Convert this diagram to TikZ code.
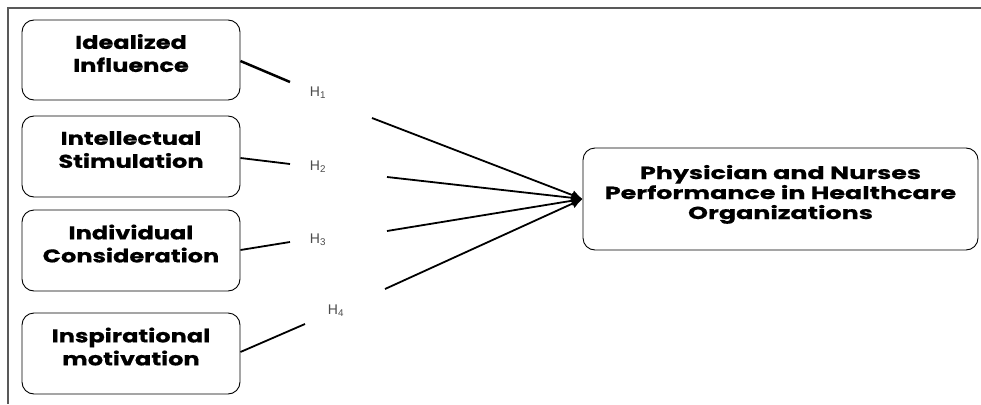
\documentclass[tikz,border=0pt]{standalone}
\usepackage{fontspec}
\setmainfont{Liberation Sans}
\newfontfamily\boxfont{Poppins}[BoldFeatures={FakeStretch=1.3,FakeBold=0.6}]
\newfontfamily\widefont{Poppins}[BoldFeatures={FakeStretch=1.45,FakeBold=0.6}]
\usetikzlibrary{arrows.meta}
\newcommand\updrop{\rule[-14pt]{0pt}{0pt}}
\tikzset{
  box/.style={draw=black, line width=0.9pt, rounded corners=12pt, align=center,
    font=\boxfont\bfseries\fontsize{18.5}{23}\selectfont, inner sep=0pt},
  hlab/.style={font=\fontsize{14}{16}\selectfont, text=black!70},
  link/.style={line width=1.8pt},
  arr/.style={line width=1.8pt, -{Latex[length=11pt,width=10pt]}},
}
\begin{document}
\begin{tikzpicture}[x=1pt,y=-1pt]
\useasboundingbox (0,0) rectangle (981,404);
\draw[black!65, line width=1.3pt] (981,8) -- (8,8) -- (8,404);
% left boxes
\node[box, minimum width=218pt, minimum height=80pt] (b1) at (131,60) {Idealized\\Influence\updrop};
\node[box, minimum width=218pt, minimum height=81pt] (b2) at (131,156.5) {Intellectual\\Stimulation\updrop};
\node[box, minimum width=218pt, minimum height=81pt] (b3) at (131,250.5) {Individual\\Consideration\updrop};
\node[box, minimum width=218pt, minimum height=81pt] (b4) at (131,353.5) {Inspirational\\motivation\updrop};
% target
\node[box, minimum width=395pt, minimum height=102pt, font=\widefont\bfseries\fontsize{17.5}{20}\selectfont] (t) at (780.5,199) {Physician and Nurses\\Performance in Healthcare\\Organizations\updrop};
% labels
\node[hlab] (h1) at (318,93) {H\textsubscript{1}};
\node[hlab] (h2) at (318,167) {H\textsubscript{2}};
\node[hlab] (h3) at (318,240) {H\textsubscript{3}};
\node[hlab] (h4) at (336,311) {H\textsubscript{4}};
% segment ends
\coordinate (a1) at (290,82);
\coordinate (a2) at (290,164);
\coordinate (a3) at (290,242);
\coordinate (a4) at (305,324);
\coordinate (s1) at (372,118);
\coordinate (s2) at (387,177);
\coordinate (s3) at (387,231);
\coordinate (s4) at (385,289);
\coordinate (tip) at (t.west);
% connectors
\draw[link, line width=2.5pt] (b1.east |- 0,61) -- (a1);
\draw[link] (b2.east |- 0,158) -- (a2);
\draw[link] (b3.east |- 0,250) -- (a3);
\draw[link] (b4.east |- 0,352) -- (a4);
\draw[arr] (s1) -- (tip);
\draw[arr] (s2) -- (tip);
\draw[arr] (s3) -- (tip);
\draw[arr] (s4) -- (tip);
\end{tikzpicture}
\end{document}
